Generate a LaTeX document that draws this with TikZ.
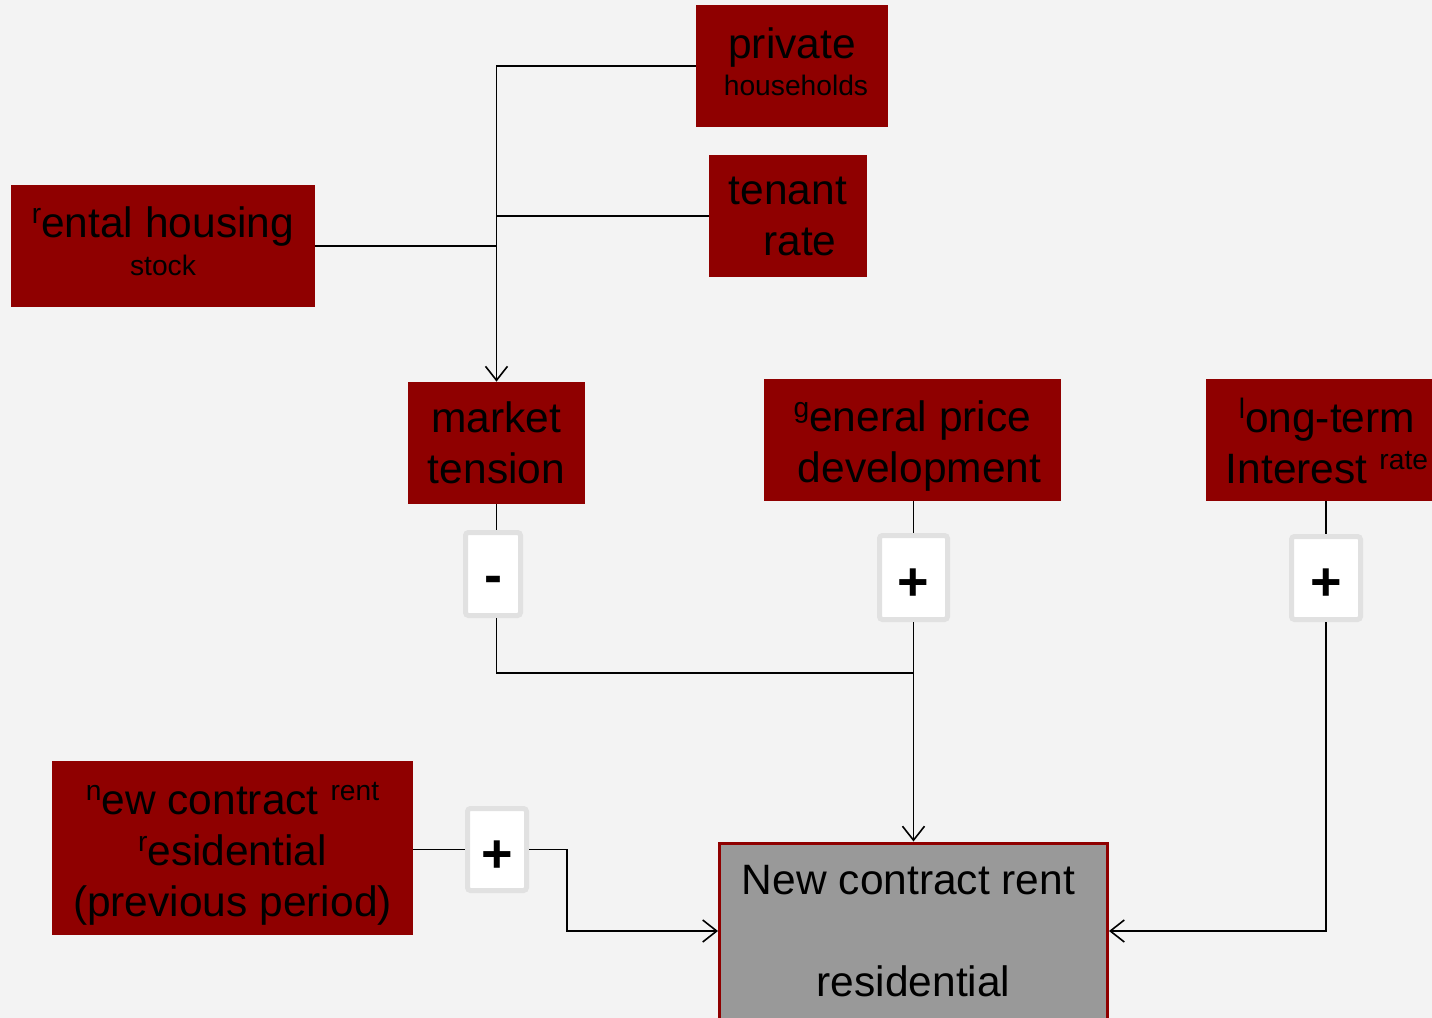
\documentclass[tikz,border=0pt]{standalone}
\usepackage{fontspec}
\setmainfont{Liberation Sans}
\usetikzlibrary{arrows.meta}
\definecolor{boxred}{HTML}{8F0000}
\definecolor{bgcol}{HTML}{F3F3F3}
\definecolor{signgray}{HTML}{E1E1E1}
\definecolor{tgtgray}{HTML}{999999}
\newcommand\hsup[1]{{\fontsize{14.1}{16}\selectfont\smash{\raisebox{7pt}{#1}}}}
\newcommand\smalltxt[1]{{\fontsize{14.1}{16}\selectfont #1}}
\newcommand\signtxt[2]{\raisebox{-#1}[\height][\depth]{#2}}
\newcommand\toppad[1]{\rule{0pt}{#1}}
\newcommand\botpad[1]{\rule[-#1]{0pt}{0pt}}
\begin{document}
\begin{tikzpicture}[x=0.5pt,y=-0.5pt,
  every node/.style={font=\fontsize{21.25}{25.5}\selectfont, align=center, inner sep=0pt},
  redbox/.style={fill=boxred, draw=none},
  signbox/.style={fill=white, draw=signgray, line width=2.5pt, rounded corners=1.5pt,
    font=\fontsize{27}{30}\selectfont\bfseries},
  conn/.style={draw=black, line width=0.8pt},
  arr/.style={conn, -{Straight Barb[length=7pt,width=11pt]}}]
\fill[bgcol] (0,0) rectangle (1432,1018);
\useasboundingbox (0,0) rectangle (1432,1018);
\clip (0,0) rectangle (1432,1018);

% red boxes
\node[redbox, minimum width=96pt, minimum height=61pt] (priv) at (792,66)
  {private\\[-7pt]\hspace{4pt}\smalltxt{households}\botpad{4pt}};
\node[redbox, minimum width=79pt, minimum height=61pt] (ten) at (788,216)
  {tenant\\\hspace{12pt}rate};
\node[redbox, minimum width=152pt, minimum height=61pt] (rent) at (163,246)
  {\hsup{r}ental housing\\[-6.5pt]\smalltxt{stock}\botpad{4.5pt}};
\node[redbox, minimum width=88.5pt, minimum height=61pt] (mt) at (496.5,443)
  {market\\tension};
\node[redbox, minimum width=148.5pt, minimum height=61pt] (gp) at (912.5,440)
  {\toppad{21pt}\hsup{g}eneral price\\\hspace{7pt}development};
\node[redbox, minimum width=121pt, minimum height=61pt] (lt) at (1327,440)
  {\toppad{18pt}\hsup{l}ong-term\\Interest \hsup{rate}};
\node[redbox, minimum width=180.5pt, minimum height=87pt] (ncp) at (232.5,848)
  {\toppad{22pt}\hsup{n}ew contract \hsup{rent}\\\hsup{r}esidential\\(previous period)};
\node[fill=tgtgray, draw=boxred, line width=1.5pt, minimum width=194pt, minimum height=88pt] (tgt) at (913.5,931)
  {New contract rent\hspace{5pt}\mbox{}\\[25.5pt]residential};

% sign boxes
\node[signbox, minimum width=27.5pt, minimum height=41.5pt] (sm) at (493,574) {\signtxt{5.5pt}{-}};
\node[signbox, minimum width=34pt, minimum height=42pt] (sp1) at (913.5,577.5) {\signtxt{3.5pt}{+}};
\node[signbox, minimum width=34.5pt, minimum height=41.5pt] (sp2) at (1326,578) {\signtxt{3.5pt}{+}};
\node[signbox, minimum width=29.5pt, minimum height=41pt] (sp3) at (497,849.5) {\signtxt{3.5pt}{+}};

\coordinate (join) at (913,673);
\coordinate (bend) at (567,849.5);

% connectors
\draw[arr] (priv.west) -| (mt.north);
\draw[conn] (ten.west) -- (ten.west -| mt.north);
\draw[conn] (rent.east) -- (rent.east -| mt.north);
\draw[conn] (mt.south) -- (mt.south |- sm.north);
\draw[conn] (mt.south |- sm.south) |- (join);
\draw[conn] (sp1.north |- gp.south) -- (sp1.north);
\draw[arr] (sp1.south) -- (tgt.north);
\draw[conn] (sp2.north |- lt.south) -- (sp2.north);
\draw[arr] (sp2.south) |- (tgt.east);
\draw[conn] (sp3.west -| ncp.east) -- (sp3.west);
\draw[arr] (sp3.east) -- (bend) |- (tgt.west);
\end{tikzpicture}
\end{document}
